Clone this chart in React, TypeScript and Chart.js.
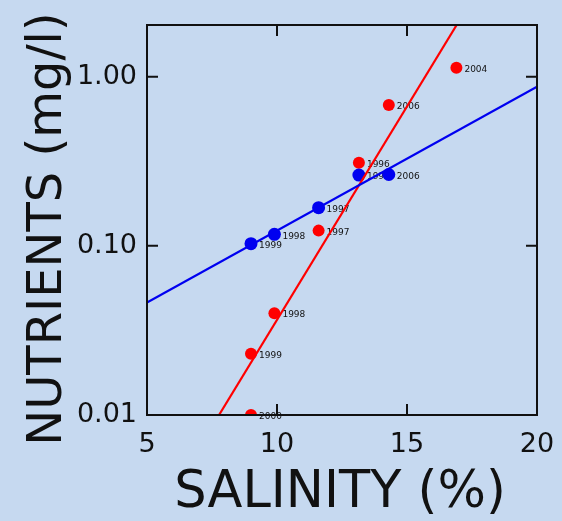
import { useEffect, useRef } from "react";
import { Chart, registerables } from "chart.js";

Chart.register(...registerables);

// ---- data ----
const redYears = ["2004", "2006", "1996", "1997", "1998", "1999", "2000"];
const redSalinity = [16.9, 14.3, 13.15, 11.6, 9.9, 9.0, 9.0];
const redNutrients = [1.13, 0.68, 0.31, 0.123, 0.04, 0.023, 0.01];

const blueYears = ["2006", "1996", "1997", "1998", "1999"];
const blueSalinity = [14.3, 13.15, 11.6, 9.9, 9.0];
const blueNutrients = [0.264, 0.262, 0.168, 0.117, 0.103];

const redFitSalinity = [7.77, 16.91];
const redFitNutrients = [0.01, 2.02];
const blueFitSalinity = [5, 20];
const blueFitNutrients = [0.0462, 0.873];

const xTickValues = [5, 10, 15, 20];
const yTickValues = [0.01, 0.1, 1];
const yTickLabels = ["0.01", "0.10", "1.00"];

const xTitle = "SALINITY (%)";
const yTitle = "NUTRIENTS (mg/l)";

// ---- styling ----
const BG = "#C6D9F0";
const INK = "#111111";
const RED = "#FF0000";
const BLUE = "#0000F0";
const FONT = "'DejaVu Sans', sans-serif";

function pts(xs: number[], ys: number[]) {
  return xs.map((x, i) => ({ x, y: ys[i] }));
}

const framePlugin = {
  id: "frameAndTitles",
  beforeDatasetsDraw(chart: any) {
    const ctx = chart.ctx;
    ctx.save();
    ctx.font = `9px ${FONT}`;
    ctx.fillStyle = INK;
    ctx.textAlign = "left";
    ctx.textBaseline = "middle";
    const groups = [
      { ds: 0, labels: redYears },
      { ds: 1, labels: blueYears },
    ];
    groups.forEach((g) => {
      const meta = chart.getDatasetMeta(g.ds);
      meta.data.forEach((el: any, i: number) => {
        ctx.fillText(g.labels[i], el.x + 8, el.y + 2);
      });
    });
    ctx.restore();
  },
  afterDraw(chart: any) {
    const ctx = chart.ctx;
    const { left, right, top, bottom } = chart.chartArea;
    const xs = chart.scales.x;
    const ys = chart.scales.y;
    ctx.save();
    ctx.strokeStyle = INK;
    ctx.lineWidth = 2;
    ctx.strokeRect(left, top, right - left, bottom - top);
    const tl = 11;
    ctx.beginPath();
    xTickValues.forEach((v) => {
      const px = xs.getPixelForValue(v);
      ctx.moveTo(px, bottom);
      ctx.lineTo(px, bottom - tl);
      ctx.moveTo(px, top);
      ctx.lineTo(px, top + tl);
    });
    yTickValues.forEach((v) => {
      const py = ys.getPixelForValue(v);
      ctx.moveTo(left, py);
      ctx.lineTo(left + tl, py);
      ctx.moveTo(right, py);
      ctx.lineTo(right - tl, py);
    });
    ctx.stroke();

    ctx.fillStyle = INK;
    ctx.textAlign = "center";
    ctx.textBaseline = "alphabetic";
    ctx.font = `51px ${FONT}`;
    ctx.fillText(xTitle, (left + right) / 2 - 2, 507);
    ctx.font = `48px ${FONT}`;
    ctx.translate(61, (top + bottom) / 2 + 9);
    ctx.rotate(-Math.PI / 2);
    ctx.fillText(yTitle, 0, 0);
    ctx.restore();
  },
};

export default function App() {
  const ref = useRef<HTMLCanvasElement | null>(null);

  useEffect(() => {
    if (!ref.current) return;
    const chart = new Chart(ref.current, {
      type: "scatter",
      data: {
        datasets: [
          {
            label: "red",
            data: pts(redSalinity, redNutrients),
            backgroundColor: RED,
            borderColor: RED,
            pointRadius: 6,
            pointBorderWidth: 0,
            showLine: false,
            order: 3,
          },
          {
            label: "blue",
            data: pts(blueSalinity, blueNutrients),
            backgroundColor: BLUE,
            borderColor: BLUE,
            pointRadius: 6.5,
            pointBorderWidth: 0,
            showLine: false,
            order: 2,
          },
          {
            label: "red fit",
            data: pts(redFitSalinity, redFitNutrients),
            borderColor: RED,
            borderWidth: 2.2,
            pointRadius: 0,
            showLine: true,
            order: 1,
          },
          {
            label: "blue fit",
            data: pts(blueFitSalinity, blueFitNutrients),
            borderColor: BLUE,
            borderWidth: 2.2,
            pointRadius: 0,
            showLine: true,
            order: 0,
          },
        ],
      },
      options: {
        responsive: false,
        animation: false,
        devicePixelRatio: 1,
        layout: { padding: { left: 0, top: 25, right: 25, bottom: 0 } },
        plugins: {
          legend: { display: false },
          tooltip: { enabled: false },
        },
        scales: {
          x: {
            type: "linear",
            min: 5,
            max: 20,
            grid: { display: false, drawTicks: false },
            border: { display: false },
            afterBuildTicks: (s: any) => {
              s.ticks = xTickValues.map((v) => ({ value: v }));
            },
            afterFit: (s: any) => {
              s.height = 106;
              s.paddingLeft = 0;
              s.paddingRight = 0;
            },
            ticks: {
              padding: 14,
              color: INK,
              font: { family: FONT, size: 27 },
              maxRotation: 0,
              callback: (v: any) => String(v),
            },
          },
          y: {
            type: "logarithmic",
            min: 0.01,
            max: 2.02,
            grid: { display: false, drawTicks: false },
            border: { display: false },
            afterBuildTicks: (s: any) => {
              s.ticks = yTickValues.map((v) => ({ value: v }));
            },
            afterFit: (s: any) => {
              s.width = 147;
              s.paddingTop = 0;
              s.paddingBottom = 0;
            },
            ticks: {
              padding: 10,
              color: INK,
              font: { family: FONT, size: 27 },
              callback: (v: any) => {
                const i = yTickValues.indexOf(v);
                return i >= 0 ? yTickLabels[i] : "";
              },
            },
          },
        },
      },
      plugins: [framePlugin],
    } as any);
    return () => chart.destroy();
  }, []);

  return (
    <div
      style={{
        position: "fixed",
        left: 0,
        top: 0,
        width: 562,
        height: 521,
        background: BG,
      }}
    >
      <canvas ref={ref} width={562} height={521} style={{ width: 562, height: 521, display: "block" }} />
    </div>
  );
}
